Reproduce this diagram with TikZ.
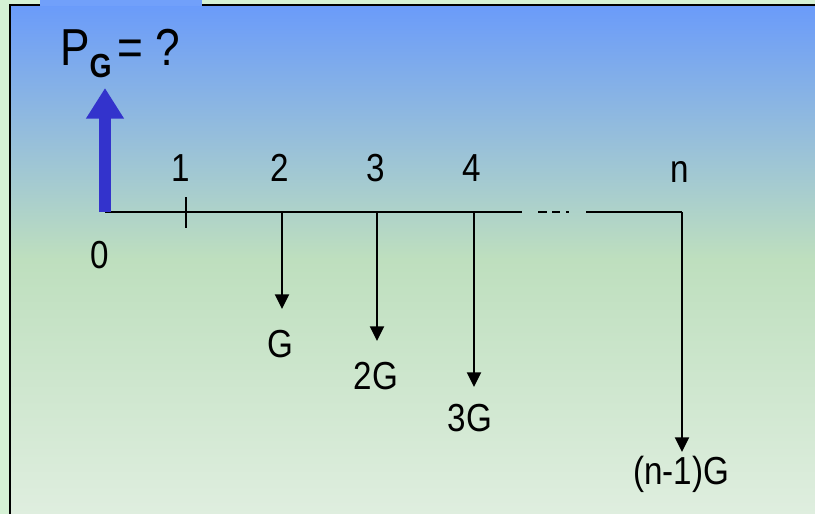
\documentclass[tikz,border=0pt]{standalone}
\usepackage{fontspec}
\setmainfont{Liberation Sans}[FakeStretch=0.85]
\usetikzlibrary{arrows.meta}
\definecolor{outerbg}{RGB}{213,241,213}
\definecolor{paneltop}{RGB}{106,155,250}
\definecolor{panelmid}{RGB}{190,223,190}
\definecolor{panelbot}{RGB}{223,238,223}
\definecolor{cashblue}{RGB}{51,51,204}
\begin{document}
\begin{tikzpicture}[x=0.75pt, y=-0.75pt,
      lbl/.style={inner sep=0pt, anchor=base, font=\fontsize{29.3}{30}\selectfont},
      axis/.style={line width=1.6pt},
      pay/.style={line width=1.6pt, -{Triangle[length=11pt, width=10.5pt]}},
      rec/.style={line width=9pt, cashblue, -{Triangle[length=23pt, width=27pt]}}]
    \useasboundingbox (0,0) rectangle (815,514);
    \fill[outerbg] (0,0) rectangle (815,514);
    \shade[top color=paneltop, bottom color=panelbot, middle color=panelmid] (10,5) rectangle (815,514);
    \fill[paneltop!95!white] (40,0) rectangle (202,6);
    \draw[line width=1.9pt] (40,5) -- (10,5) -- (10,514);
    \draw[line width=1.9pt] (202,5) -- (815,5);
    % time line
    \coordinate (t0) at (105,212);
    \coordinate (t1) at (186,212);
    \coordinate (t2) at (282,212);
    \coordinate (t3) at (377,212);
    \coordinate (t4) at (474,212);
    \coordinate (cut1) at (522,212);
    \coordinate (cut2) at (586,212);
    \coordinate (tn) at (682,212);
    \draw[axis] (t0) -- (cut1);
    \draw[axis] (cut2) -- (tn);
    \draw[axis] (538,212) -- (547,212) (552,212) -- (560,212) (566,212) -- (569,212);
    \draw[axis] (186,197) -- (186,228);
    \node[lbl] (l1) at (181,181) {1};
    \node[lbl] (l2) at (280,181) {2};
    \node[lbl] (l3) at (376,181) {3};
    \node[lbl] (l4) at (472,181) {4};
    \node[lbl] (ln) at (680,182) {n};
    \node[lbl] (l0) at (100,268) {0};
    % payments
    \coordinate (g1) at (282,309);
    \coordinate (g2) at (377,341);
    \coordinate (g3) at (474,387);
    \coordinate (gn) at (682,452);
    \draw[pay] (t2) -- (g1);
    \draw[pay] (t3) -- (g2);
    \draw[pay] (t4) -- (g3);
    \draw[pay] (tn) -- (gn);
    \node[lbl] (v1) at (280,357) {G};
    \node[lbl] (v2) at (376,389) {2G};
    \node[lbl] (v3) at (470,431) {3G};
    \node[lbl] (vn) at (681,484) {(n-1)G};
    % present value
    \coordinate (pg) at (105,88);
    \draw[rec] (t0) -- (pg);
    \node[inner sep=0pt, anchor=base west, font=\fontsize{39}{40}\selectfont] (title) at (60,65)
      {P\raisebox{-9pt}{\fontsize{25}{25}\selectfont\bfseries G}\hspace{4pt}= ?};
\end{tikzpicture}
\end{document}
